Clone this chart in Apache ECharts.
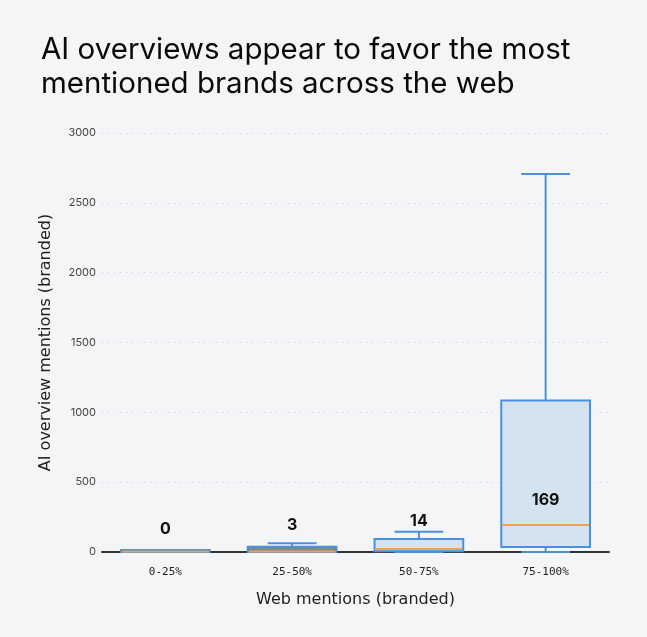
<!DOCTYPE html>
<html>
<head>
<meta charset="utf-8">
<script src="https://cdn.jsdelivr.net/npm/echarts@6/dist/echarts.min.js"></script>
<style>
html,body{margin:0;padding:0;background:#f4f5f7;}
#chart{width:647px;height:637px;}
</style>
</head>
<body>
<div id="chart"></div>
<script>
const categories = ['0-25%', '25-50%', '50-75%', '75-100%'];
const whiskerLow = [0, 0, 0, 0];
const q1Values = [0, 0, 6, 36];
const medianValues = [3, 3, 22, 194];
const q3Values = [14, 38, 93, 1084];
const whiskerHigh = [14, 62, 145, 2706];
const medianLabels = ['0', '3', '14', '169'];
const yTicks = [0, 500, 1000, 1500, 2000, 2500, 3000];

// styles (not data)
const boxFills = ['#c58a4f', '#7d8a8a', '#d4e3f0', '#d4e3f0'];
const labelOffsets = [23, 27, 31, 52];
const BLUE = '#4a90dc';
const ORANGE = '#f0a24a';

const seriesData = categories.map((c, i) => [i, whiskerLow[i], q1Values[i], medianValues[i], q3Values[i], whiskerHigh[i]]);

const chart = echarts.init(document.getElementById('chart'), null, {renderer: 'canvas'});
chart.setOption({
  backgroundColor: '#f4f5f7',
  animation: false,
  title: {
    text: 'AI overviews appear to favor the most\nmentioned brands across the web',
    left: 36,
    top: 28,
    textStyle: {fontFamily: 'Inter', fontSize: 29.5, fontWeight: 'normal', color: '#0a0a0a', lineHeight: 34}
  },
  grid: {left: 102, right: 38, top: 133, bottom: 85},
  xAxis: {
    type: 'category',
    data: categories,
    name: 'Web mentions (branded)',
    nameLocation: 'middle',
    nameGap: 40,
    nameTextStyle: {fontFamily: 'DejaVu Sans', fontSize: 16, color: '#222'},
    axisLine: {lineStyle: {color: '#333', width: 2}},
    axisTick: {show: false},
    axisLabel: {fontFamily: 'DejaVu Sans Mono', fontSize: 11, color: '#222', margin: 15}
  },
  yAxis: {
    type: 'value',
    min: 0,
    max: 3000,
    interval: 500,
    name: 'AI overview mentions (branded)',
    nameLocation: 'middle',
    nameGap: 48,
    nameTextStyle: {fontFamily: 'DejaVu Sans', fontSize: 16, color: '#222'},
    axisLine: {show: false},
    axisTick: {show: false},
    axisLabel: {fontFamily: 'Inter', fontSize: 11, color: '#444', margin: 6,
      formatter: v => yTicks.indexOf(v) >= 0 ? String(v) : ''},
    splitLine: {lineStyle: {color: '#c9cdd2', type: [1, 5], width: 1}}
  },
  series: [{
    type: 'custom',
    data: seriesData,
    encode: {x: 0, y: [1, 2, 3, 4, 5]},
    renderItem: function (params, api) {
      const i = api.value(0);
      const lo = api.coord([i, api.value(1)]);
      const q1 = api.coord([i, api.value(2)]);
      const med = api.coord([i, api.value(3)]);
      const q3 = api.coord([i, api.value(4)]);
      const hi = api.coord([i, api.value(5)]);
      const bw = api.size([1, 0])[0] * 0.7;
      const cw = bw * 0.55;
      const x = q1[0];
      const lineStyle = {stroke: BLUE, lineWidth: 2};
      const zero = api.coord([i, 0]);
      const children = [];
      if (hi[1] < q3[1] - 1) {
        children.push({type: 'line', shape: {x1: x, y1: q3[1], x2: x, y2: hi[1]}, style: lineStyle});
        children.push({type: 'line', shape: {x1: x - cw / 2, y1: hi[1], x2: x + cw / 2, y2: hi[1]}, style: lineStyle});
      }
      if (i > 0) {
        children.push({type: 'line', shape: {x1: x, y1: q1[1], x2: x, y2: lo[1]}, style: lineStyle});
        children.push({type: 'line', shape: {x1: x - cw / 2, y1: lo[1], x2: x + cw / 2, y2: lo[1]}, style: lineStyle});
      }
      children.push({type: 'rect', shape: {x: x - bw / 2, y: q3[1], width: bw, height: Math.max(q1[1] - q3[1], 1)},
        style: {fill: boxFills[i], stroke: BLUE, lineWidth: 2}});
      children.push({type: 'line', shape: {x1: x - bw / 2 + 1, y1: med[1], x2: x + bw / 2 - 1, y2: med[1]},
        style: {stroke: ORANGE, lineWidth: 2}});
      children.push({type: 'text', x: x, y: zero[1] - labelOffsets[i],
        style: {text: medianLabels[i], fontFamily: 'Inter', fontSize: 16, fontWeight: 'bold',
          fill: '#111', align: 'center', verticalAlign: 'middle'}});
      return {type: 'group', children: children};
    }
  }]
});
</script>
</body>
</html>
